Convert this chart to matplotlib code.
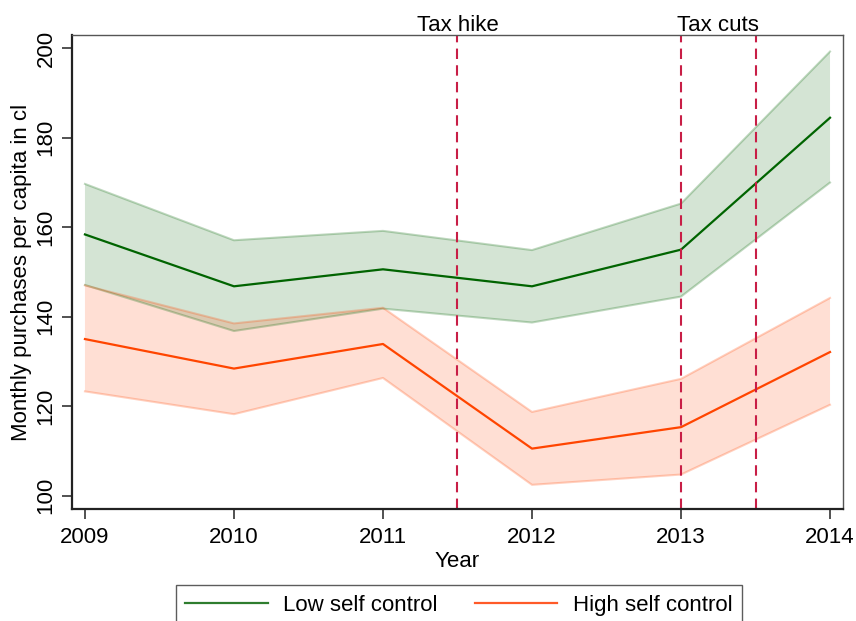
import matplotlib.pyplot as plt
from matplotlib.lines import Line2D
from matplotlib.transforms import blended_transform_factory

plt.rcParams['font.family'] = ['Liberation Sans', 'DejaVu Sans']

# yearly means and confidence bands
years = [2009, 2010, 2011, 2012, 2013, 2014]
low_mean = [158.4, 146.8, 150.6, 146.8, 155.0, 184.5]
low_hi = [169.7, 157.1, 159.2, 154.9, 165.3, 199.3]
low_lo = [147.1, 136.8, 141.8, 138.7, 144.5, 170.0]
high_mean = [135.0, 128.4, 133.9, 110.5, 115.3, 132.1]
high_hi = [147.0, 138.5, 142.0, 118.7, 126.1, 144.2]
high_lo = [123.3, 118.2, 126.3, 102.4, 104.7, 120.3]

# policy events
event_years = [2011.5, 2013, 2013.5]
event_labels = ['Tax hike', 'Tax cuts']
event_label_x = [2011.5, 2013.25]

green = '#006400'
orange = '#ff4500'
red = '#c81e46'
fs = 16

fig = plt.figure(figsize=(8.56, 6.21), dpi=100)
ax = fig.add_axes([0.0841, 0.1804, 0.9007, 0.7632])

ax.fill_between(years, low_lo, low_hi, facecolor=green, alpha=0.17, edgecolor='none')
ax.plot(years, low_hi, color=green, alpha=0.25, lw=1.5)
ax.plot(years, low_lo, color=green, alpha=0.25, lw=1.5)
ax.fill_between(years, high_lo, high_hi, facecolor=orange, alpha=0.17, edgecolor='none')
ax.plot(years, high_hi, color=orange, alpha=0.25, lw=1.5)
ax.plot(years, high_lo, color=orange, alpha=0.25, lw=1.5)

ax.plot(years, low_mean, color=green, lw=1.6)
ax.plot(years, high_mean, color=orange, lw=1.6)

for x in event_years:
    ax.axvline(x, color=red, lw=1.5, dashes=(5, 3))

trans = blended_transform_factory(ax.transData, ax.transAxes)
for x, lab in zip(event_label_x, event_labels):
    ax.text(x, 0.998, lab, transform=trans, ha='center', va='bottom', fontsize=fs)

ax.set_xlim(2008.913, 2014.087)
ax.set_ylim(97.0, 203.0)
ax.set_xticks(years)
ax.set_yticks(range(100, 201, 20))
ax.tick_params(labelsize=fs, length=7, width=1.2, color='#333333')
ax.tick_params(axis='x', pad=6)
ax.tick_params(axis='y', pad=4)
for lab in ax.get_yticklabels():
    lab.set_rotation(90)
    lab.set_va('center')
ax.set_xlabel('Year', fontsize=fs, labelpad=2)
ax.set_ylabel('Monthly purchases per capita in cl', fontsize=fs, labelpad=3)

for side in ['left', 'bottom']:
    ax.spines[side].set_linewidth(1.6)
    ax.spines[side].set_color('#222222')
for side in ['top', 'right']:
    ax.spines[side].set_linewidth(1.0)
    ax.spines[side].set_color('#555555')

handles = [Line2D([], [], color='#2e7d2e', lw=1.6),
           Line2D([], [], color='#ff5a28', lw=1.6)]
leg = fig.legend(handles, ['Low self control', 'High self control'],
                 loc='upper center', bbox_to_anchor=(0.536, 0.0573), ncol=2,
                 fontsize=fs, frameon=True, fancybox=False, handlelength=3.7,
                 handletextpad=0.7, columnspacing=1.67, borderpad=0.44,
                 borderaxespad=0)
leg.get_frame().set_edgecolor('#333333')
leg.get_frame().set_linewidth(1.0)

fig.savefig('out.png', dpi=100)
